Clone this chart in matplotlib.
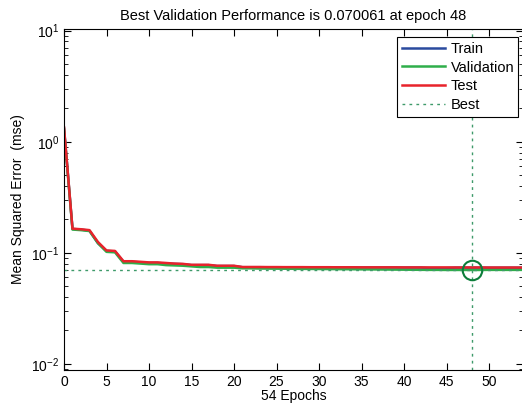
import numpy as np
import matplotlib
matplotlib.use("Agg")
import matplotlib.pyplot as plt

plt.rcParams['font.family'] = ['Liberation Sans', 'DejaVu Sans']
plt.rcParams['mathtext.fontset'] = 'custom'
plt.rcParams['mathtext.rm'] = 'Liberation Sans'
plt.rcParams['mathtext.it'] = 'Liberation Sans:italic'
plt.rcParams['mathtext.bf'] = 'Liberation Sans:bold'

# performance per epoch (0..54)
epochs = list(range(55))
test = [1.35, 0.165, 0.163, 0.160, 0.125, 0.105, 0.104, 0.084, 0.084, 0.083,
        0.082, 0.082, 0.081, 0.080, 0.0795, 0.078, 0.078, 0.078, 0.0765, 0.0765,
        0.0765, 0.0745, 0.0745, 0.0745, 0.0744, 0.0744, 0.0743, 0.0743, 0.0743, 0.0742,
        0.0742, 0.0742, 0.0741, 0.0741, 0.0741, 0.0740, 0.0740, 0.0740, 0.0740, 0.0740,
        0.0739, 0.0739, 0.0739, 0.0739, 0.0739, 0.0739, 0.0738, 0.0738, 0.0738, 0.0738,
        0.0737, 0.0737, 0.0737, 0.0737, 0.0737]
train = [1.33, 0.164, 0.162, 0.158, 0.122, 0.104, 0.103, 0.083, 0.083, 0.082,
         0.081, 0.081, 0.080, 0.0795, 0.079, 0.0775, 0.0775, 0.0775, 0.076, 0.076,
         0.076, 0.0742, 0.0742, 0.0742, 0.0741, 0.0741, 0.0740, 0.0740, 0.0740, 0.0739,
         0.0739, 0.0739, 0.0738, 0.0738, 0.0738, 0.0737, 0.0737, 0.0737, 0.0737, 0.0737,
         0.0736, 0.0736, 0.0736, 0.0728, 0.0728, 0.0728, 0.0735, 0.0735, 0.0735, 0.0735,
         0.0734, 0.0734, 0.0734, 0.0734, 0.0734]
validation = [1.30, 0.162, 0.160, 0.157, 0.122, 0.102, 0.101, 0.081, 0.081, 0.080,
              0.079, 0.079, 0.0775, 0.077, 0.0765, 0.0755, 0.0745, 0.0745, 0.0735, 0.0735,
              0.0735, 0.0725, 0.0725, 0.0722, 0.0721, 0.0720, 0.0719, 0.0718, 0.0717, 0.0716,
              0.0715, 0.0714, 0.0713, 0.0712, 0.0711, 0.0710, 0.0709, 0.0708, 0.0707, 0.0706,
              0.0705, 0.0704, 0.0703, 0.0702, 0.0702, 0.0701, 0.0701, 0.0701, 0.070061, 0.0701,
              0.0702, 0.0702, 0.0702, 0.0702, 0.0702]
best_epoch = 48
best_perf = 0.070061

fig = plt.figure(figsize=(5.22, 4.04), dpi=100)
ax = fig.add_axes([64 / 522, 34 / 404, 459 / 522, 341 / 404])

ax.semilogy(epochs, train, color='#2a4a9e', lw=1.8, label='Train')
ax.semilogy(epochs, validation, color='#2fae4a', lw=1.8, label='Validation')
ax.semilogy(epochs, test, color='#e8232b', lw=1.8, label='Test')
ax.axvline(best_epoch, color='#3e9a6a', ls=(0, (2, 3)), lw=1.0, label='Best')
ax.axhline(best_perf, color='#3e9a6a', ls=(0, (2, 3)), lw=1.0)
ax.plot([best_epoch], [best_perf], 'o', mfc='none', mec='#0c7d3a', ms=14, mew=1.5)

ax.set_xlim(0, 54)
ax.set_ylim(10 ** -2.055, 10 ** 1.015)
ax.set_xticks(range(0, 55, 5))
ax.set_yticks([1e-2, 1e-1, 1e0, 1e1])
ax.tick_params(which='both', direction='in', top=True, right=True, labelsize=10)
ax.tick_params(which='major', length=5)
ax.tick_params(which='minor', length=3)

ax.set_title('Best Validation Performance is 0.070061 at epoch 48', fontsize=10.5, pad=6.5)
ax.set_xlabel('54 Epochs', fontsize=10, labelpad=0)
ax.set_ylabel('Mean Squared Error  (mse)', fontsize=10)

leg = ax.legend(loc='upper right', fontsize=10.5, fancybox=False, framealpha=1,
                edgecolor='black', handlelength=3.0, borderpad=0.3,
                labelspacing=0.33, handletextpad=0.35, bbox_to_anchor=(1.006, 0.997))
leg.get_frame().set_linewidth(0.8)

fig.savefig('out.png', dpi=100)
